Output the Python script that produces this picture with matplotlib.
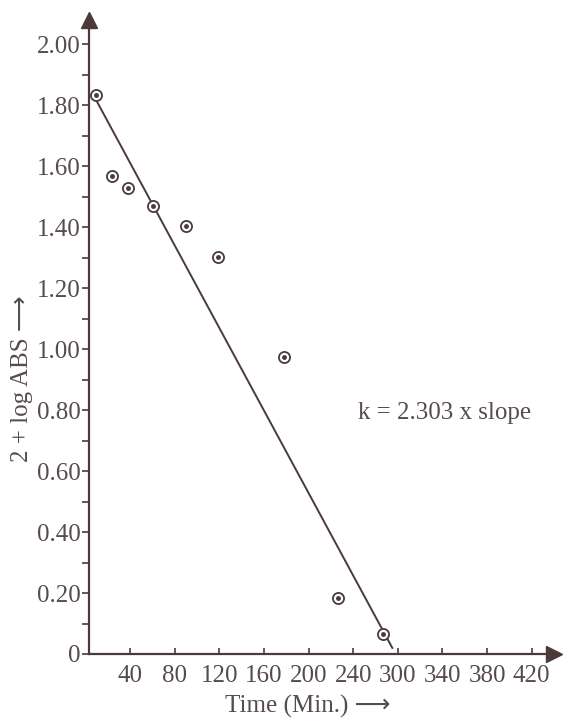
import matplotlib
matplotlib.use('Agg')
import matplotlib.pyplot as plt

# readings (time in min, 2 + log ABS)
time_min = [9, 24, 38, 60, 90, 119, 178, 226, 267]
abs_log = [1.833, 1.567, 1.528, 1.469, 1.403, 1.304, 0.973, 0.184, 0.066]

# fitted straight line ends
fit_x = [9, 275]
fit_y = [1.82, 0.02]

xtick_pos = [40, 80, 120, 160, 200, 240, 280, 320, 360, 400]
xtick_lab = ['40', '80', '120', '160', '200', '240', '300', '340', '380', '420']
ytick_pos = [0, 0.2, 0.4, 0.6, 0.8, 1.0, 1.2, 1.4, 1.6, 1.8, 2.0]
ytick_lab = ['0', '0.20', '0.40', '0.60', '0.80', '1.00', '1.20', '1.40', '1.60', '1.80', '2.00']
yminor_pos = [0.1, 0.3, 0.5, 0.7, 0.9, 1.1, 1.3, 1.5, 1.7, 1.9]

INK = '#4a3a3a'
TXT = '#574c4c'
FS = 18
plt.rcParams['font.family'] = ['Liberation Serif', 'DejaVu Sans']

fig = plt.figure(figsize=(5.63, 7.19), dpi=100)
ax = fig.add_axes([89/563, 1-654/719, (554-89)/563, (654-20)/719])

ax.plot(fit_x, fit_y, color=INK, lw=1.4, zorder=2)
ax.plot(time_min, abs_log, 'o', ms=8, mfc='white', mec=INK, mew=1.3, zorder=3)
ax.plot(time_min, abs_log, 'o', ms=2.5, color=INK, zorder=4)

ax.set_xlim(3, 420)
ax.set_ylim(0, 2.08)
for s in ['top', 'right']:
    ax.spines[s].set_visible(False)
for s in ['left', 'bottom']:
    ax.spines[s].set_color(INK)
    ax.spines[s].set_linewidth(1.6)
# arrow heads on the axes
ax.plot(1, 0, '>', ms=11, color=INK, transform=ax.transAxes, clip_on=False)
ax.plot(0, 1, '^', ms=11, color=INK, transform=ax.transAxes, clip_on=False)

ax.set_xticks(xtick_pos)
ax.set_xticklabels(xtick_lab)
ax.set_yticks(ytick_pos)
ax.set_yticklabels(ytick_lab)
ax.set_yticks(yminor_pos, minor=True)
ax.tick_params(axis='x', direction='in', length=4, width=1.2, color=INK,
               labelsize=FS, labelcolor=TXT, pad=8)
ax.tick_params(axis='y', which='both', direction='out', length=5, width=1.2,
               color=INK, labelsize=FS, labelcolor=TXT, pad=1)

ax.set_xlabel('Time (Min.) \u27f6', fontsize=FS, color=TXT)
ax.set_ylabel('2 + log ABS \u27f6', fontsize=FS, color=TXT)
ax.yaxis.set_label_coords(-0.12, 0.435)
ax.xaxis.set_label_coords(0.47, -0.065)

ax.text(244, 0.79, 'k = 2.303 x slope', fontsize=FS, color=TXT, va='center')

fig.savefig('out.png', dpi=100)
